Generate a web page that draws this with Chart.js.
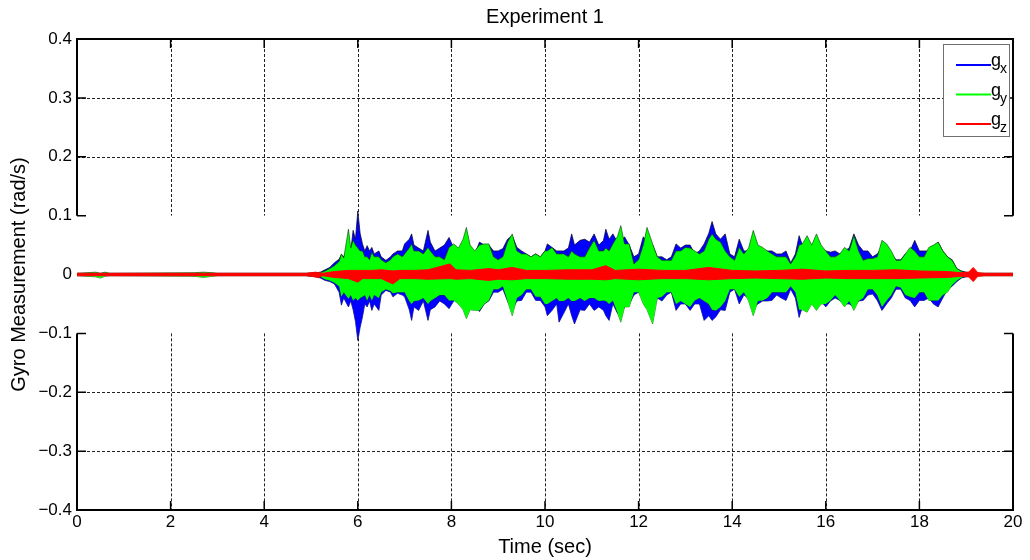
<!DOCTYPE html>
<html>
<head>
<meta charset="utf-8">
<script src="https://cdn.jsdelivr.net/npm/chart.js@4/dist/chart.umd.min.js"></script>
<style>
  html, body { margin: 0; background: #fff; }
  #wrap { width: 1030px; height: 560px; }
</style>
</head>
<body>
<div id="wrap"><canvas id="gyro"></canvas></div>
<script>
// envelope of gx / gy (sec, rad/s)
const tEnv = [
  0, 0.4, 0.5, 0.6, 0.7, 2.5, 2.7, 2.9, 3.0, 4.9,
  5.1, 5.2, 5.3, 5.4, 5.5, 5.6, 5.65, 5.7, 5.8, 5.85,
  5.9, 5.95, 6.0, 6.05, 6.1, 6.15, 6.2, 6.25, 6.3, 6.35,
  6.45, 6.5, 6.6, 6.7, 6.75, 6.85, 6.95, 7.0, 7.1, 7.15,
  7.2, 7.3, 7.4, 7.5, 7.55, 7.65, 7.75, 7.85, 7.95, 8.05,
  8.15, 8.25, 8.32, 8.4, 8.5, 8.6, 8.7, 8.8, 8.9, 9.0,
  9.1, 9.2, 9.3, 9.4, 9.5, 9.6, 9.7, 9.8, 9.9, 10.0,
  10.05, 10.15, 10.25, 10.3, 10.4, 10.5, 10.57, 10.63, 10.75, 10.85,
  10.95, 11.05, 11.15, 11.25, 11.3, 11.37, 11.45, 11.55, 11.62, 11.7,
  11.8, 11.9, 12.0, 12.1, 12.18, 12.3, 12.4, 12.5, 12.6, 12.7,
  12.8, 12.9, 13.0, 13.1, 13.2, 13.3, 13.4, 13.5, 13.57, 13.65,
  13.75, 13.85, 13.95, 14.05, 14.15, 14.25, 14.35, 14.45, 14.55, 14.65,
  14.75, 14.85, 14.95, 15.05, 15.15, 15.25, 15.35, 15.43, 15.5, 15.6,
  15.7, 15.8, 15.9, 16.0, 16.1, 16.2, 16.3, 16.4, 16.5, 16.6,
  16.7, 16.8, 16.9, 17.0, 17.1, 17.2, 17.3, 17.4, 17.5, 17.6,
  17.7, 17.8, 17.9, 18.0, 18.1, 18.2, 18.3, 18.4, 18.5, 18.6,
  18.7, 18.8, 18.9, 19.0, 19.3, 20.0
];
const gxHi = [
  0.002, 0.002, 0.002, 0.002, 0.002, 0.002, 0.002, 0.002, 0.002, 0.002,
  0.003, 0.004, 0.008, 0.012, 0.020, 0.026, 0.034, 0.030, 0.046, 0.040,
  0.075, 0.060, 0.108, 0.070, 0.052, 0.040, 0.049, 0.040, 0.046, 0.035,
  0.040, 0.030, 0.024, 0.030, 0.035, 0.040, 0.040, 0.052, 0.060, 0.069,
  0.050, 0.045, 0.040, 0.075, 0.055, 0.040, 0.045, 0.050, 0.063, 0.045,
  0.040, 0.045, 0.050, 0.040, 0.035, 0.055, 0.050, 0.050, 0.040, 0.040,
  0.044, 0.060, 0.066, 0.046, 0.040, 0.035, 0.030, 0.035, 0.030, 0.040,
  0.052, 0.046, 0.040, 0.040, 0.040, 0.045, 0.069, 0.050, 0.058, 0.060,
  0.055, 0.069, 0.050, 0.058, 0.077, 0.060, 0.069, 0.055, 0.055, 0.064,
  0.050, 0.030, 0.035, 0.064, 0.055, 0.050, 0.030, 0.030, 0.025, 0.030,
  0.052, 0.045, 0.050, 0.050, 0.035, 0.040, 0.052, 0.070, 0.090, 0.069,
  0.060, 0.069, 0.035, 0.030, 0.060, 0.040, 0.040, 0.050, 0.045, 0.040,
  0.040, 0.040, 0.035, 0.035, 0.040, 0.020, 0.035, 0.066, 0.050, 0.050,
  0.045, 0.050, 0.045, 0.040, 0.038, 0.040, 0.035, 0.040, 0.045, 0.069,
  0.050, 0.040, 0.040, 0.030, 0.035, 0.046, 0.040, 0.035, 0.025, 0.025,
  0.035, 0.040, 0.058, 0.040, 0.040, 0.040, 0.045, 0.055, 0.040, 0.030,
  0.025, 0.010, 0.006, 0.004, 0.002, 0.002
];
const gxLo = [
  -0.002, -0.002, -0.002, -0.002, -0.002, -0.002, -0.002, -0.002, -0.002, -0.002,
  -0.004, -0.006, -0.010, -0.012, -0.016, -0.030, -0.052, -0.040, -0.055, -0.045,
  -0.060, -0.080, -0.112, -0.090, -0.072, -0.050, -0.055, -0.045, -0.061, -0.050,
  -0.061, -0.035, -0.027, -0.030, -0.038, -0.032, -0.035, -0.038, -0.060, -0.078,
  -0.055, -0.061, -0.045, -0.078, -0.060, -0.055, -0.045, -0.050, -0.058, -0.045,
  -0.040, -0.050, -0.055, -0.050, -0.055, -0.063, -0.050, -0.045, -0.030, -0.030,
  -0.025, -0.045, -0.060, -0.045, -0.044, -0.030, -0.030, -0.044, -0.044, -0.055,
  -0.070, -0.061, -0.050, -0.081, -0.066, -0.050, -0.070, -0.084, -0.060, -0.061,
  -0.050, -0.061, -0.055, -0.061, -0.070, -0.078, -0.050, -0.066, -0.066, -0.055,
  -0.050, -0.035, -0.030, -0.040, -0.050, -0.060, -0.040, -0.045, -0.035, -0.030,
  -0.061, -0.050, -0.050, -0.061, -0.050, -0.050, -0.078, -0.070, -0.078, -0.072,
  -0.060, -0.061, -0.030, -0.025, -0.050, -0.035, -0.040, -0.055, -0.050, -0.045,
  -0.045, -0.044, -0.035, -0.040, -0.044, -0.025, -0.040, -0.073, -0.055, -0.050,
  -0.045, -0.050, -0.045, -0.055, -0.045, -0.040, -0.044, -0.050, -0.050, -0.055,
  -0.045, -0.044, -0.035, -0.033, -0.044, -0.061, -0.050, -0.040, -0.025, -0.025,
  -0.040, -0.044, -0.055, -0.044, -0.044, -0.040, -0.050, -0.055, -0.040, -0.025,
  -0.020, -0.012, -0.006, -0.004, -0.002, -0.002
];
const gyHi = [
  0.002, 0.004, 0.002, 0.004, 0.002, 0.003, 0.004, 0.003, 0.002, 0.002,
  0.003, 0.003, 0.006, 0.010, 0.015, 0.022, 0.035, 0.028, 0.077, 0.045,
  0.058, 0.050, 0.045, 0.040, 0.040, 0.030, 0.030, 0.025, 0.038, 0.030,
  0.030, 0.025, 0.020, 0.025, 0.030, 0.035, 0.030, 0.035, 0.045, 0.052,
  0.040, 0.040, 0.035, 0.046, 0.040, 0.030, 0.030, 0.025, 0.046, 0.052,
  0.045, 0.060, 0.080, 0.050, 0.040, 0.050, 0.052, 0.052, 0.030, 0.025,
  0.030, 0.055, 0.069, 0.040, 0.035, 0.035, 0.030, 0.035, 0.030, 0.040,
  0.040, 0.046, 0.035, 0.035, 0.035, 0.030, 0.040, 0.035, 0.030, 0.030,
  0.045, 0.058, 0.040, 0.040, 0.045, 0.040, 0.052, 0.065, 0.083, 0.052,
  0.052, 0.018, 0.025, 0.050, 0.080, 0.052, 0.030, 0.024, 0.024, 0.024,
  0.040, 0.040, 0.046, 0.045, 0.040, 0.035, 0.040, 0.060, 0.069, 0.060,
  0.055, 0.040, 0.030, 0.024, 0.046, 0.035, 0.045, 0.075, 0.050, 0.046,
  0.040, 0.035, 0.030, 0.030, 0.030, 0.018, 0.030, 0.050, 0.052, 0.066,
  0.050, 0.069, 0.050, 0.040, 0.030, 0.030, 0.035, 0.046, 0.040, 0.066,
  0.040, 0.024, 0.027, 0.027, 0.030, 0.058, 0.052, 0.040, 0.024, 0.024,
  0.035, 0.046, 0.040, 0.030, 0.030, 0.046, 0.050, 0.055, 0.040, 0.030,
  0.024, 0.010, 0.005, 0.003, 0.002, 0.002
];
const gyLo = [
  -0.002, -0.004, -0.006, -0.003, -0.002, -0.003, -0.005, -0.003, -0.002, -0.002,
  -0.004, -0.004, -0.008, -0.010, -0.014, -0.020, -0.038, -0.030, -0.041, -0.035,
  -0.044, -0.040, -0.044, -0.040, -0.038, -0.035, -0.044, -0.035, -0.044, -0.035,
  -0.040, -0.030, -0.025, -0.028, -0.032, -0.030, -0.030, -0.030, -0.045, -0.050,
  -0.045, -0.044, -0.040, -0.050, -0.045, -0.040, -0.035, -0.035, -0.044, -0.044,
  -0.050, -0.060, -0.075, -0.060, -0.061, -0.061, -0.050, -0.044, -0.025, -0.025,
  -0.020, -0.045, -0.070, -0.040, -0.035, -0.025, -0.025, -0.038, -0.038, -0.050,
  -0.050, -0.045, -0.040, -0.045, -0.045, -0.040, -0.045, -0.045, -0.040, -0.045,
  -0.040, -0.040, -0.045, -0.044, -0.045, -0.050, -0.044, -0.065, -0.081, -0.055,
  -0.055, -0.030, -0.030, -0.050, -0.060, -0.084, -0.040, -0.038, -0.030, -0.030,
  -0.050, -0.045, -0.050, -0.055, -0.044, -0.040, -0.045, -0.050, -0.060, -0.061,
  -0.055, -0.045, -0.025, -0.025, -0.038, -0.030, -0.045, -0.070, -0.045, -0.044,
  -0.040, -0.030, -0.030, -0.030, -0.030, -0.020, -0.030, -0.060, -0.060, -0.064,
  -0.050, -0.061, -0.050, -0.050, -0.044, -0.035, -0.044, -0.055, -0.045, -0.061,
  -0.045, -0.040, -0.025, -0.025, -0.035, -0.055, -0.044, -0.035, -0.020, -0.022,
  -0.035, -0.038, -0.040, -0.030, -0.030, -0.044, -0.044, -0.044, -0.035, -0.030,
  -0.018, -0.010, -0.005, -0.003, -0.002, -0.002
];

// gz envelope
const tZ = [
  0, 4.9, 5.1, 5.16, 5.25, 5.5, 5.8, 6.0, 6.1, 6.3,
  6.5, 6.75, 6.9, 7.2, 7.5, 7.97, 8.1, 8.4, 8.8, 9.0,
  9.3, 9.6, 10.0, 10.5, 11.0, 11.3, 11.5, 12.0, 12.5, 13.0,
  13.5, 14.0, 14.5, 15.0, 15.5, 16.0, 16.5, 17.0, 17.5, 18.0,
  18.6, 18.9, 19.05, 19.15, 19.25, 19.4, 20.0
];
const gzHi = [
  0.002, 0.002, 0.004, 0.003, 0.002, 0.005, 0.007, 0.007, 0.007, 0.007,
  0.008, 0.006, 0.007, 0.007, 0.008, 0.018, 0.008, 0.007, 0.010, 0.008,
  0.012, 0.007, 0.007, 0.008, 0.008, 0.015, 0.007, 0.009, 0.007, 0.007,
  0.012, 0.007, 0.006, 0.007, 0.009, 0.006, 0.007, 0.007, 0.008, 0.006,
  0.005, 0.003, 0.004, 0.012, 0.003, 0.002, 0.002
];
const gzLo = [
  -0.002, -0.002, -0.004, -0.005, -0.002, -0.005, -0.007, -0.013, -0.007, -0.007,
  -0.007, -0.016, -0.007, -0.007, -0.008, -0.007, -0.008, -0.007, -0.010, -0.008,
  -0.009, -0.007, -0.007, -0.008, -0.008, -0.009, -0.007, -0.009, -0.007, -0.007,
  -0.009, -0.007, -0.006, -0.007, -0.008, -0.006, -0.007, -0.007, -0.007, -0.006,
  -0.005, -0.003, -0.004, -0.012, -0.003, -0.002, -0.002
];

const xTicks = [0, 2, 4, 6, 8, 10, 12, 14, 16, 18, 20];
const yTicks = [-0.4, -0.3, -0.2, -0.1, 0, 0.1, 0.2, 0.3, 0.4];
const legendNames = ["x", "y", "z"];
const colors = ["#0000ff", "#00ff00", "#ff0000"];
const chartTitle = "Experiment 1";

const FONT = "'Liberation Sans', Arial, Helvetica, sans-serif";

function pts(ts, vs) {
  return ts.map((t, i) => ({ x: t, y: vs[i] }));
}

function band(ts, vs, color, edge, fill) {
  return {
    data: pts(ts, vs),
    borderColor: edge,
    backgroundColor: color,
    borderWidth: 1,
    pointRadius: 0,
    tension: 0,
    fill: fill
  };
}

// matlab style box, dashed grid with a gap round the data, legend, title
const matlabFrame = {
  id: "matlabFrame",
  beforeDatasetsDraw(chart) {
    const { ctx, chartArea: a, scales: { x, y } } = chart;
    const gapTop = y.getPixelForValue(0.1);
    const gapBot = y.getPixelForValue(-0.1);
    ctx.save();
    ctx.strokeStyle = "#222";
    ctx.lineWidth = 1;
    ctx.setLineDash([3, 2]);
    ctx.beginPath();
    xTicks.slice(1, -1).forEach(v => {
      const px = Math.round(x.getPixelForValue(v)) + 0.5;
      ctx.moveTo(px, a.top); ctx.lineTo(px, gapTop);
      ctx.moveTo(px, gapBot); ctx.lineTo(px, a.bottom);
    });
    yTicks.filter(v => Math.abs(v) > 0.15 && Math.abs(v) < 0.35).forEach(v => {
      const py = Math.round(y.getPixelForValue(v)) + 0.5;
      ctx.moveTo(a.left, py); ctx.lineTo(a.right, py);
    });
    ctx.stroke();
    ctx.restore();
  },
  afterDatasetsDraw(chart) {
    const { ctx, chartArea: a, scales: { x, y } } = chart;
    const gapTop = y.getPixelForValue(0.1);
    const gapBot = y.getPixelForValue(-0.1);
    ctx.save();
    ctx.strokeStyle = "#000";
    ctx.lineWidth = 2;
    ctx.beginPath();
    ctx.moveTo(a.left - 1, a.top); ctx.lineTo(a.right + 1, a.top);
    ctx.moveTo(a.left - 1, a.bottom); ctx.lineTo(a.right + 1, a.bottom);
    [a.left, a.right].forEach(px => {
      ctx.moveTo(px, a.top); ctx.lineTo(px, gapTop);
      ctx.moveTo(px, gapBot); ctx.lineTo(px, a.bottom);
    });
    ctx.stroke();
    ctx.lineWidth = 1.5;
    ctx.beginPath();
    yTicks.forEach(v => {
      if (v === 0) return;
      const py = y.getPixelForValue(v);
      ctx.moveTo(a.left, py); ctx.lineTo(a.left + 9, py);
      ctx.moveTo(a.right, py); ctx.lineTo(a.right - 9, py);
    });
    xTicks.forEach(v => {
      const px = x.getPixelForValue(v);
      ctx.moveTo(px, a.top); ctx.lineTo(px, a.top + 9);
      ctx.moveTo(px, a.bottom); ctx.lineTo(px, a.bottom - 9);
    });
    ctx.stroke();

    // title, centred over the axes box
    ctx.fillStyle = "#000";
    ctx.font = "20px " + FONT;
    ctx.textAlign = "center";
    ctx.textBaseline = "middle";
    ctx.fillText(chartTitle, (a.left + a.right) / 2, 17);

    // legend
    const bx = 943.5, by = 44.5, bw = 66, bh = 92;
    ctx.fillStyle = "#fff";
    ctx.fillRect(bx, by, bw, bh);
    ctx.strokeStyle = "#707070";
    ctx.lineWidth = 1;
    ctx.strokeRect(bx, by, bw, bh);
    legendNames.forEach((n, i) => {
      const ly = 65 + i * 29.5;
      ctx.strokeStyle = colors[i];
      ctx.lineWidth = 2;
      ctx.beginPath();
      ctx.moveTo(956, ly); ctx.lineTo(991, ly);
      ctx.stroke();
      ctx.fillStyle = "#000";
      ctx.textBaseline = "alphabetic";
      ctx.textAlign = "left";
      ctx.font = "18px " + FONT;
      ctx.fillText("g", 991, ly + 1);
      ctx.font = "14px " + FONT;
      ctx.fillText(n, 1000, ly + 8);
    });
    ctx.restore();
  }
};

new Chart(document.getElementById("gyro"), {
  type: "line",
  data: {
    datasets: [
      band(tZ, gzHi, colors[2], colors[2], "+1"),
      band(tZ, gzLo, colors[2], colors[2], false),
      band(tEnv, gyHi, colors[1], "rgba(0,60,0,0.6)", "+1"),
      band(tEnv, gyLo, colors[1], "rgba(0,60,0,0.6)", false),
      band(tEnv, gxHi, colors[0], "rgba(0,0,40,0.7)", "+1"),
      band(tEnv, gxLo, colors[0], "rgba(0,0,40,0.7)", false)
    ]
  },
  options: {
    responsive: true,
    maintainAspectRatio: false,
    animation: false,
    layout: { padding: { left: 0, right: 17, top: 39, bottom: 0 } },
    plugins: {
      legend: { display: false },
      tooltip: { enabled: false },
      title: { display: false }
    },
    scales: {
      x: {
        type: "linear",
        min: 0,
        max: 20,
        afterBuildTicks: s => { s.ticks = xTicks.map(v => ({ value: v })); },
        afterFit: s => { s.height = 50; },
        ticks: { color: "#000", font: { family: FONT, size: 17 }, padding: 2, maxRotation: 0 },
        grid: { display: false, drawTicks: false },
        border: { display: false },
        title: {
          display: true,
          text: "Time (sec)",
          color: "#000",
          font: { family: FONT, size: 20 },
          padding: { top: 0, bottom: 1 }
        }
      },
      y: {
        min: -0.4,
        max: 0.4,
        afterBuildTicks: s => { s.ticks = yTicks.map(v => ({ value: v })); },
        afterFit: s => { s.width = 77; },
        ticks: {
          color: "#000",
          font: { family: FONT, size: 17 },
          padding: 5,
          callback: v => {
            const r = Math.round(v * 10) / 10;
            if (r === 0) return "0";
            return (r < 0 ? "\u2212" : "") + Math.abs(r).toString();
          }
        },
        grid: { display: false, drawTicks: false },
        border: { display: false },
        title: {
          display: true,
          text: "Gyro Measurement (rad/s)",
          color: "#000",
          font: { family: FONT, size: 20 },
          padding: { top: 7, bottom: 0 }
        }
      }
    }
  },
  plugins: [matlabFrame]
});
</script>
</body>
</html>
